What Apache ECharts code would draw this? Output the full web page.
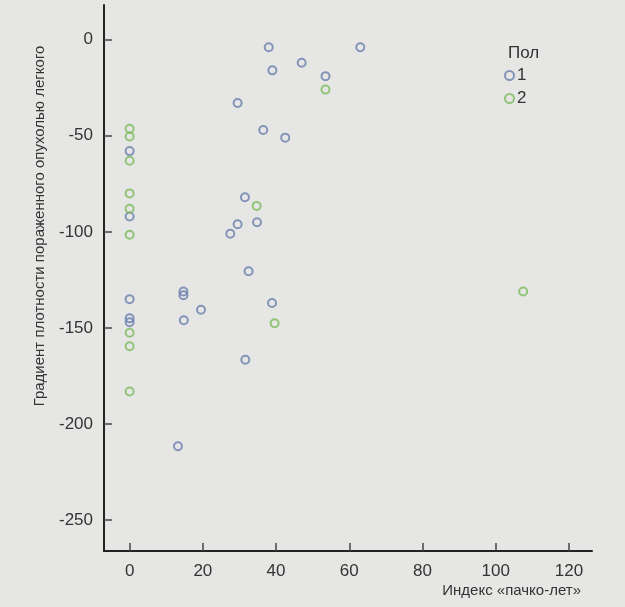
<!DOCTYPE html>
<html>
<head>
<meta charset="utf-8">
<script src="https://cdn.jsdelivr.net/npm/echarts@6/dist/echarts.min.js"></script>
<style>
  html, body { margin: 0; padding: 0; background: #e6e6e5; }
  #chart { width: 625px; height: 607px; }
</style>
</head>
<body>
<div id="chart"></div>
<script>
// Пол 1 (синие)
var sex1 = [
  [0, -58], [0, -92], [0, -135], [0, -145], [0, -147],
  [38, -4], [63, -4], [47, -12], [39, -16], [53.5, -19],
  [29.5, -33], [36.5, -47], [42.5, -51], [31.5, -82], [34.8, -95],
  [29.5, -96], [27.5, -101], [32.5, -120.5], [14.7, -131], [14.7, -133],
  [19.5, -140.5], [38.9, -137], [14.8, -146], [31.6, -166.5], [13.2, -211.5]
]
// Пол 2 (зеленые)
var sex2 = [
  [0, -46.4], [0, -50.4], [0, -63], [0, -80], [0, -88],
  [0, -101.5], [0, -152.5], [0, -159.5], [0, -183],
  [53.5, -26], [34.7, -86.5], [39.6, -147.5], [107.5, -131]
]
var xTicks = [0, 20, 40, 60, 80, 100, 120]
var yTicks = [-250, -200, -150, -100, -50, 0]

var font = 'Liberation Sans, Arial, sans-serif'
var blue = '#6b7fae'
var green = '#7cbb5c'

var myChart = echarts.init(document.getElementById('chart'))
var option = {
  backgroundColor: '#e6e6e5',
  animation: false,
  textStyle: { fontFamily: font },
  title: {
    text: 'Пол',
    left: 503,
    top: 40,
    textStyle: { fontSize: 17, fontWeight: 'normal', color: '#333', fontFamily: font }
  },
  legend: {
    orient: 'vertical',
    left: 499,
    top: 62,
    itemWidth: 9,
    itemHeight: 9,
    itemGap: 6,
    textStyle: { fontSize: 17, color: '#333', fontFamily: font, padding: [0, 0, 0, -2] },
    data: ['1', '2']
  },
  grid: { left: 104, right: 33, top: 5, bottom: 56 },
  xAxis: {
    type: 'value',
    min: -7,
    max: 126.3,
    name: 'Индекс «пачко-лет»',
    nameLocation: 'end',
    nameGap: -11,
    nameTextStyle: {
      fontSize: 15, color: '#333', align: 'right', verticalAlign: 'top',
      padding: [32, 0, 0, 0]
    },
    splitLine: { show: false },
    axisLine: { onZero: false, lineStyle: { color: '#222', width: 2 } },
    axisTick: { inside: true, length: 8, customValues: xTicks, lineStyle: { color: '#444', width: 1.5 } },
    axisLabel: { customValues: xTicks, fontSize: 17, color: '#333', margin: 12 }
  },
  yAxis: {
    type: 'value',
    min: -266,
    max: 18,
    name: 'Градиент плотности пораженного опухолью легкого',
    nameLocation: 'middle',
    nameRotate: 90,
    nameGap: 57,
    nameTextStyle: { fontSize: 15, color: '#333', padding: [0, 0, 0, 104] },
    splitLine: { show: false },
    axisLine: { onZero: false, lineStyle: { color: '#222', width: 2 } },
    axisTick: { inside: true, length: 8, customValues: yTicks, lineStyle: { color: '#444', width: 1.5 } },
    axisLabel: { customValues: yTicks, fontSize: 17, color: '#333', margin: 11 }
  },
  series: [{
    name: '1',
    type: 'scatter',
    data: sex1,
    symbol: 'circle',
    symbolSize: 8,
    itemStyle: { color: 'rgba(0,0,0,0)', borderColor: blue, borderWidth: 2 }
  }, {
    name: '2',
    type: 'scatter',
    data: sex2,
    symbol: 'circle',
    symbolSize: 8,
    itemStyle: { color: 'rgba(0,0,0,0)', borderColor: green, borderWidth: 2 }
  }]
}
myChart.setOption(option)
</script>
</body>
</html>
